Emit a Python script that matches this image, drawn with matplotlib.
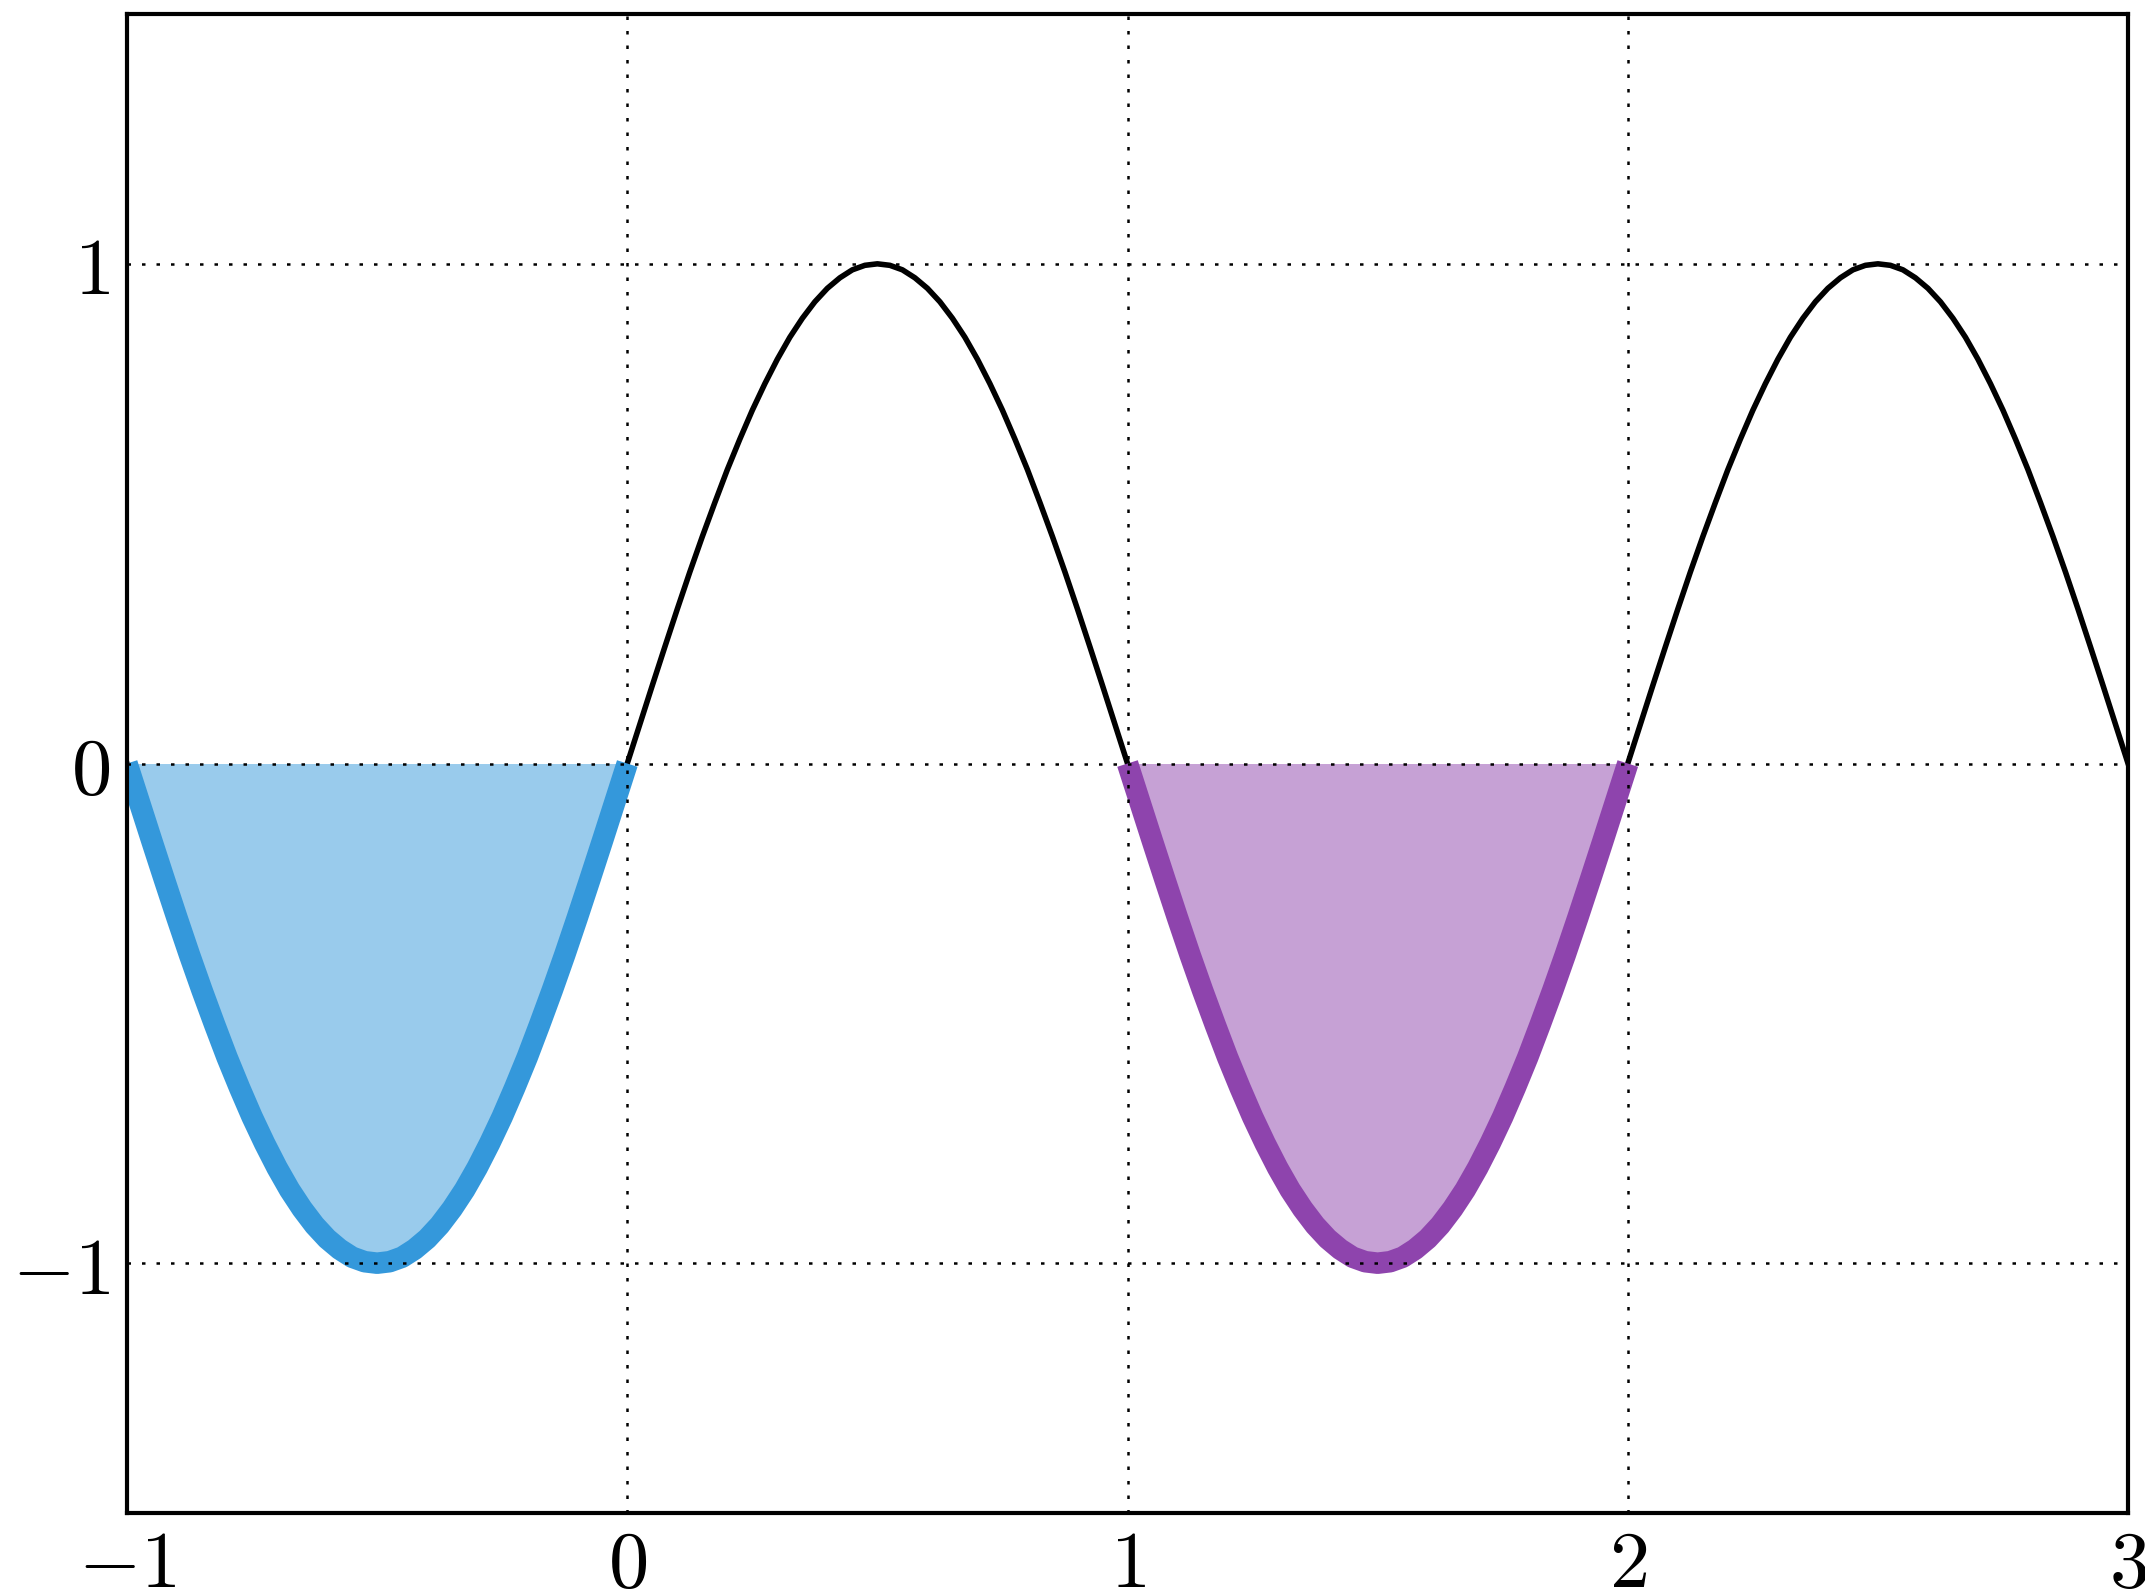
import matplotlib
matplotlib.use("Agg")
import matplotlib.pyplot as plt
import numpy as np

plt.rcParams["mathtext.fontset"] = "cm"

# one half-wave (height at steps of 0.025 in x)
half = [0.0, 0.078, 0.156, 0.233, 0.309, 0.383, 0.454, 0.522, 0.588, 0.649,
        0.707, 0.760, 0.809, 0.853, 0.891, 0.924, 0.951, 0.972, 0.988, 0.997,
        1.0]
hump = half + half[-2::-1]

starts = [-1, 0, 1, 2]
signs = [-1, 1, -1, 1]
fills = {0: "#3498db", 2: "#8e44ad"}   # segment index -> colour

xticks = [-1, 0, 1, 2, 3]
yticks = [-1, 0, 1]

fig = plt.figure(figsize=(21.45, 15.89), dpi=100)
ax = fig.add_axes([0.0592, 0.0478, 0.9329, 0.9434])

xs = []
ys = []
for i, (s, sg) in enumerate(zip(starts, signs)):
    x = s + np.linspace(0, 1, len(hump))
    y = sg * np.array(hump)
    xs.append(x)
    ys.append(y)
x_all = np.concatenate(xs)
y_all = np.concatenate(ys)
ax.plot(x_all, y_all, color="black", lw=4, zorder=2)

for i, c in fills.items():
    ax.fill_between(xs[i], ys[i], 0, color=c, alpha=0.5, lw=0, zorder=1)
    ax.plot(xs[i], ys[i], color=c, lw=15.5, solid_capstyle="butt", zorder=2.2)

ax.set_xlim(-1, 3)
ax.set_ylim(-1.5, 1.5)
ax.set_xticks(xticks, labels=[f"${v}$" for v in xticks])
ax.set_yticks(yticks, labels=[f"${v}$" for v in yticks])
ax.tick_params(labelsize=58, direction="in", length=0, pad=12)
ax.tick_params(axis="x", pad=9)
ax.set_axisbelow(False)
ax.grid(True, color="black", lw=1.8, dashes=(1.4, 4.4))
for g in ax.get_xgridlines() + ax.get_ygridlines():
    g.set_zorder(3)
for sp in ax.spines.values():
    sp.set_linewidth(3)
    sp.set_zorder(4)

fig.savefig("out.png", dpi=100)
